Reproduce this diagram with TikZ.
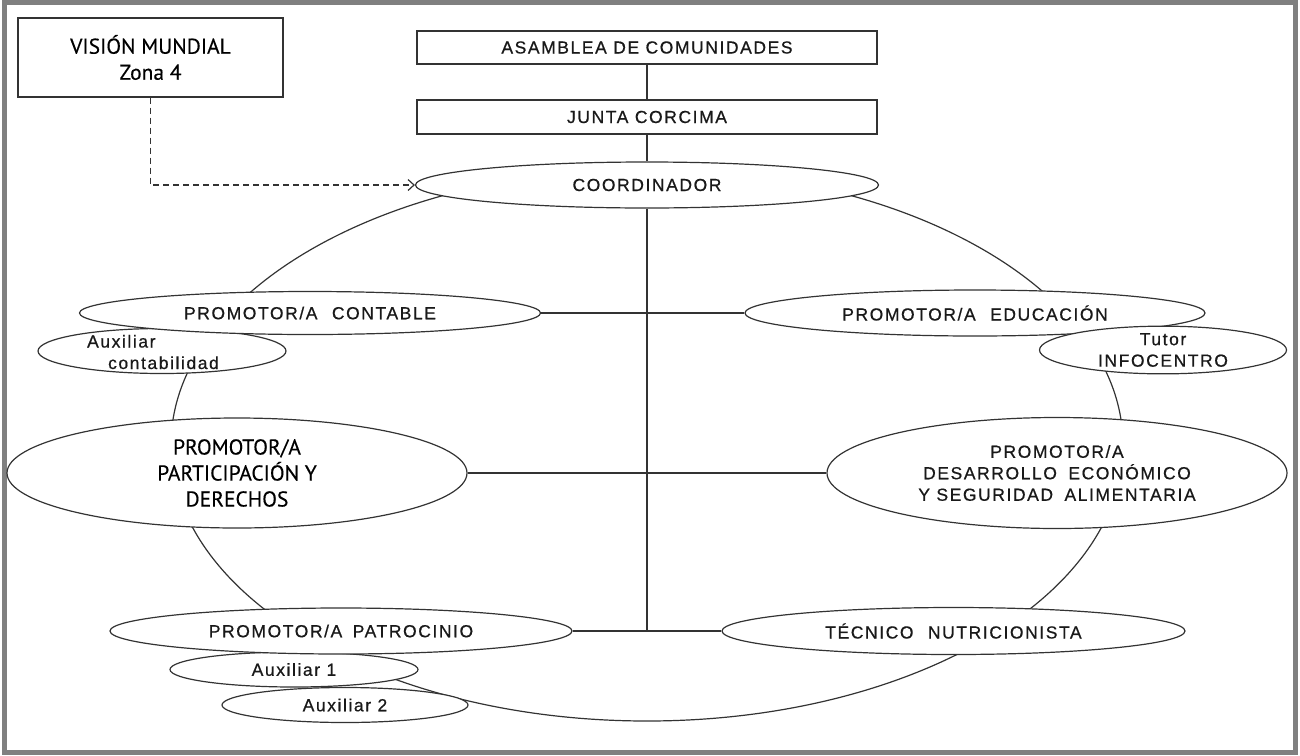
\documentclass[tikz,border=0pt]{standalone}
\usepackage{fontspec}
\setmainfont{Liberation Sans}
\newfontfamily\spacedsans[LetterSpace=9,FakeBold=0.6]{Liberation Sans}
\newfontfamily\booksans[FakeBold=0.3]{PT Sans}
\usetikzlibrary{shapes.geometric,arrows.meta}

\begin{document}
\begin{tikzpicture}[x=1pt,y=-1pt,
  line/.style={draw=black!80, line width=1.2pt},
  box/.style={line, rectangle, fill=white, inner sep=0pt},
  oval/.style={line, ellipse, fill=white, inner sep=0pt},
  caps/.style={font=\spacedsans\fontsize{17.5}{21.5}\selectfont, text=black!90, align=center},
  book/.style={font=\booksans\fontsize{21.5}{26}\selectfont, text=black, align=center},
  txt/.style={inner sep=0pt, align=center}
]
\useasboundingbox (0,0) rectangle (1300,755);
% page frame
\draw[draw=black!50, line width=5pt] (4,2.5) rectangle (1295.5,752.5);

% the ring that joins the team
\draw[line] (647,445) ellipse [x radius=476, y radius=276];

% governing bodies
\node[box, book, minimum width=265pt, minimum height=79pt] (vision) at (150.5,57.5) {VISIÓN MUNDIAL\\Zona 4};
\node[box, caps, minimum width=460pt, minimum height=33pt] (asamblea) at (647,47.5) {ASAMBLEA DE COMUNIDADES};
\node[box, caps, minimum width=460pt, minimum height=34pt] (junta) at (647,117) {JUNTA CORCIMA};
\node[oval, caps, minimum width=463pt, minimum height=46pt] (coord) at (647,185) {COORDINADOR};

% left column
\node[oval, minimum width=248pt, minimum height=45pt] (auxc) at (162,351) {};
\node[oval, caps, minimum width=461pt, minimum height=43pt] (contable) at (310,313) {PROMOTOR/A\hspace{8pt} CONTABLE};
\node[txt, caps, align=left] (auxctext) at (153,352) {Auxiliar\\\hspace{21pt}contabilidad};
\node[oval, book, minimum width=460pt, minimum height=110pt] (part) at (237,473) {PROMOTOR/A\\PARTICIPACIÓN Y\\DERECHOS};
\node[oval, caps, minimum width=246pt, minimum height=35pt] (aux2) at (345,705) {Auxiliar 2};
\node[oval, caps, minimum width=248pt, minimum height=35pt] (aux1) at (294,669.5) {Auxiliar 1};
\node[oval, caps, minimum width=462pt, minimum height=46pt] (patro) at (341,631) {PROMOTOR/A\hspace{4pt} PATROCINIO};

% right column
\node[oval, caps, minimum width=460pt, minimum height=46pt] (educ) at (975,313) {PROMOTOR/A\hspace{8pt} EDUCACIÓN};
\node[oval, caps, minimum width=247pt, minimum height=45pt] (tutor) at (1163,350) {Tutor\\INFOCENTRO};
\node[oval, caps, minimum width=460pt, minimum height=111pt] (desarr) at (1057,473) {PROMOTOR/A\\DESARROLLO\hspace{5pt} ECONÓMICO\\Y SEGURIDAD\hspace{5pt} ALIMENTARIA};
\node[oval, caps, minimum width=463pt, minimum height=47pt] (tecnico) at (953.5,631) {TÉCNICO\hspace{8pt} NUTRICIONISTA};

% hierarchy connectors
\coordinate (hub) at (647,631);
\draw[line] (asamblea) -- (junta);
\draw[line] (junta) -- (coord);
\draw[line] (coord.south) -- (hub);
\draw[line] (contable.east) -- (educ.west);
\draw[line] (part.east) -- (desarr.west);
\draw[line] (patro.east) -- (tecnico.west);

% advisory link
\draw[line, dash pattern=on 6pt off 4pt, -{Straight Barb[length=6pt,width=11pt]}] (vision.south) |- (coord.west);
\end{tikzpicture}
\end{document}
